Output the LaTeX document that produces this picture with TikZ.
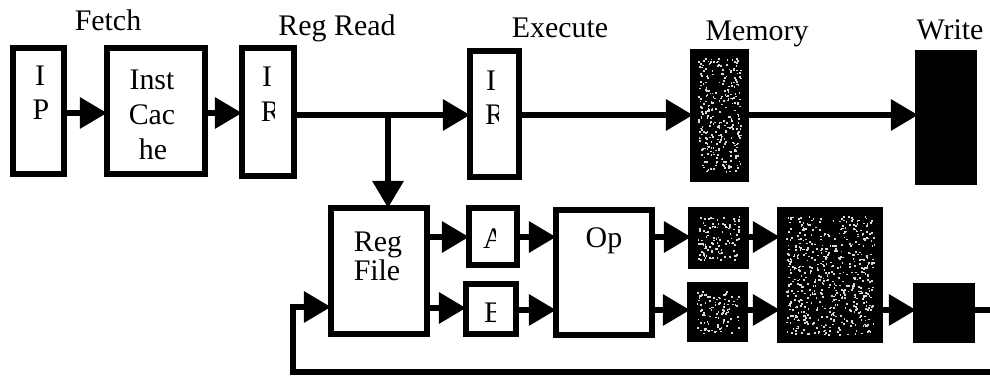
\documentclass[tikz,border=0pt]{standalone}
\usepackage{fontspec}
\setmainfont{Liberation Serif}
\usetikzlibrary{arrows.meta,fit}
% scatter light specks over a dark rectangle: x1, y1, x2, y2, count
\newcommand\mystipple[5]{%
  \foreach \k in {1,...,#5}{%
    \pgfmathsetmacro\sx{#1+rnd*(#3-#1)}%
    \pgfmathsetmacro\sy{#2+rnd*(#4-#2)}%
    \fill[white!85!black] (\sx,\sy) rectangle +(1.7,1.7);
  }%
}
\begin{document}
\begin{tikzpicture}[x=0.01cm,y=-0.01cm,
  box/.style={draw, line width=0.55mm, inner sep=0, outer sep=0, fill=white},
  shaded/.style={box, fill=black},
  solidbox/.style={box, fill=black},
  conn/.style={line width=0.6mm, line join=miter, -{Triangle[length=2.7mm,width=3mm]}},
  wire/.style={line width=0.6mm},
  txt/.style={inner sep=0, outer sep=0, anchor=base, font=\fontsize{8.5}{10}\selectfont},
  cut/.style={txt, anchor=base west},
]
\useasboundingbox (0,0) rectangle (990,377);
\pgfmathsetseed{4242}

% stage headings
\node[txt] (hfetch) at (108,31) {Fetch};
\node[txt] (hread)  at (337,36) {Reg Read};
\node[txt] (hexec)  at (560,38) {Execute};
\node[txt] (hmem)   at (757,41) {Memory};
\node[txt] (hwrite) at (950,40) {Write};

% upper pipeline
\node[box, fit={(13,48) (64,174)}] (ip) {};
\node[box, fit={(107,48) (205,174)}] (inst) {};
\node[box, fit={(242,48) (294,176)}] (ir1) {};
\node[box, fit={(470,51) (519,177)}] (ir2) {};
\node[shaded, fit={(693,52) (746,179)}] (mem) {};
\node[solidbox, fit={(918,53) (974,182)}] (wr) {};

% lower datapath
\node[box, fit={(331,208) (427,334)}] (rf) {};
\node[box, fit={(469,208) (517,265)}] (ra) {};
\node[box, fit={(466,284) (516,334)}] (rb) {};
\node[box, fit={(556,210) (652,335)}] (op) {};
\node[shaded, fit={(691,210) (746,266)}] (d1) {};
\node[shaded, fit={(690,285) (745,339)}] (d2) {};
\node[shaded, fit={(780,210) (880,340)}] (dc) {};
\node[solidbox, fit={(916,286) (972,340)}] (lb) {};

% speckled fill of the memory-stage blocks
\mystipple{698}{58}{740}{172}{300}
\mystipple{697}{216}{740}{260}{110}
\mystipple{696}{291}{739}{333}{100}
\mystipple{786}{216}{874}{334}{560}

% box texts
\node[txt] (ipa) at (40,86) {I};
\node[txt] (ipb) at (41,120) {P};
\node[txt] (insta) at (152,90) {Inst};
\node[txt] (instb) at (152,125) {Cac};
\node[txt] (instc) at (153,160) {he};
\node[txt] (ir1a) at (267,87) {I};
\begin{scope}
  \clip (250,95) rectangle (274,130);
  \node[cut] (ir1b) at (261,122) {R};
\end{scope}
\node[txt] (ir2a) at (491,91) {I};
\begin{scope}
  \clip (475,98) rectangle (498,133);
  \node[cut] (ir2b) at (485,125) {R};
\end{scope}
\node[txt] (rfa) at (378,252) {Reg};
\node[txt] (rfb) at (377,281) {File};
\begin{scope}
  \clip (475,220) rectangle (495,258);
  \node[cut] (raa) at (483,249) {A};
\end{scope}
\begin{scope}
  \clip (475,295) rectangle (495,330);
  \node[cut] (rbb) at (484,323) {B};
\end{scope}
\node[txt] (opa) at (604,248) {Op};

% free ends and junctions
\coordinate (br) at (388,115);
\coordinate (rout) at (990,310);
\coordinate (fbr) at (990,372);
\coordinate (fbl) at (293,307);

% upper connectors
\draw[conn] (ip.east |- 0,113) -- (inst.west |- 0,113);
\draw[conn] (inst.east |- 0,113) -- (ir1.west |- 0,113);
\draw[conn] (ir1.east |- 0,115) -- (ir2.west |- 0,115);
\draw[conn] (br) -- (br |- rf.north);
\draw[conn] (ir2.east |- 0,115) -- (mem.west |- 0,115);
\draw[conn] (mem.east |- 0,115) -- (wr.west |- 0,115);

% lower connectors
\draw[conn] (rf.east |- 0,237) -- (ra.west |- 0,237);
\draw[conn] (rf.east |- 0,308) -- (rb.west |- 0,308);
\draw[conn] (ra.east |- 0,237) -- (op.west |- 0,237);
\draw[conn] (rb.east |- 0,310) -- (op.west |- 0,310);
\draw[conn] (op.east |- 0,237) -- (d1.west |- 0,237);
\draw[conn] (op.east |- 0,310) -- (d2.west |- 0,310);
\draw[conn] (d1.east |- 0,237) -- (dc.west |- 0,237);
\draw[conn] (d2.east |- 0,310) -- (dc.west |- 0,310);
\draw[conn] (dc.east |- 0,310) -- (lb.west |- 0,310);
\draw[wire] (lb.east |- rout) -- (rout);

% write-back loop into the register file
\draw[conn] (fbr) -| (fbl) -- (rf.west |- fbl);
\end{tikzpicture}
\end{document}
